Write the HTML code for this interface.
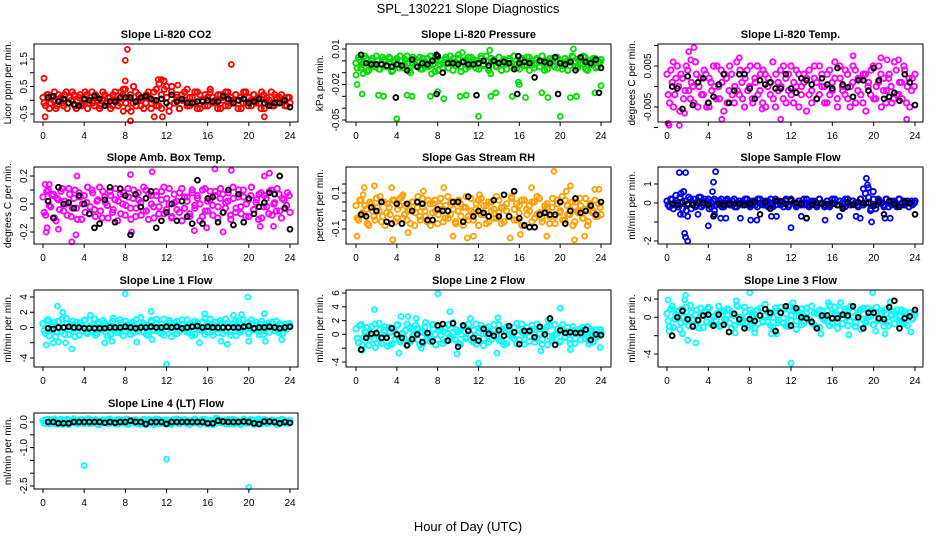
<!DOCTYPE html>
<html><head><meta charset="utf-8">
<style>
html,body{margin:0;padding:0;background:#fff;}
svg{display:block;font-family:"Liberation Sans",sans-serif;}
</style></head>
<body>
<svg id="fig" width="936" height="540" viewBox="0 0 936 540" xmlns="http://www.w3.org/2000/svg">
<rect width="936" height="540" fill="#fff"/>
<text x="468" y="13" text-anchor="middle" font-size="13">SPL_130221  Slope Diagnostics</text>
<text x="468" y="531" text-anchor="middle" font-size="13">Hour of Day (UTC)</text>
</svg>
<script>
const xTicks=[0,4,8,12,16,20,24];

const co2A=[0.1,-0.2,0.2,-0.1,0.0,-0.3,0.2,0.1,-0.2,0.3,-0.1,0.0,0.2,-0.3,0.1,-0.2,0.0,0.2,-0.1,0.3,-0.2,0.1,-0.3,0.0,0.2,-0.1,0.1,-0.2,0.3,0.0,-0.1,0.2,0.4,-0.3,0.2,-0.1,0.3,0.0,-0.2,0.1,-0.1,0.3,-0.3,0.0,0.4,-0.2,0.2,0.7,0.5,-0.4,0.3,-0.1,0.1,-0.3,0.2,0.0,0.4,-0.2,0.1,-0.1,0.3,-0.3,0.0,0.2,-0.2,0.4,0.1,-0.1,0.2,-0.3,0.0,0.3,-0.2,0.1,-0.1,0.2,0.0,-0.3,0.3,-0.1,0.1,-0.2,0.2,0.0,-0.1,0.3,-0.3,0.1,0.0,-0.2,0.2,-0.1,0.1,0.0,-0.2,0.1,-0.1];
const co2B=[-0.1,0.2,-0.3,0.1,0.3,-0.2,0.0,-0.1,0.2,-0.3,0.1,0.3,-0.2,0.0,0.2,-0.1,0.3,-0.3,0.1,-0.1,0.2,0.0,-0.2,0.3,-0.1,0.1,-0.3,0.2,0.0,-0.2,0.3,0.4,-0.1,0.1,-0.4,0.5,-0.2,0.2,0.0,-0.3,0.2,0.1,-0.1,0.3,-0.2,0.6,-0.3,0.4,0.1,-0.2,0.5,-0.1,0.2,-0.3,0.0,0.3,-0.2,0.1,-0.1,0.3,-0.3,0.2,0.0,-0.2,0.1,0.3,-0.1,0.0,-0.3,0.2,0.1,-0.2,0.3,-0.1,0.0,0.2,-0.3,0.1,-0.1,0.3,-0.2,0.0,0.2,-0.1,0.1,-0.3,0.2,0.0,-0.1,0.3,-0.2,0.1,-0.1,0.2,0.0,-0.2,0.1];
const co2Out=[[0.1,0.8],[0.2,-0.6],[8.0,1.45],[8.2,1.85],[8.0,0.7],[8.5,-0.75],[11.2,0.75],[11.5,0.75],[10.8,-0.6],[11.6,-0.6],[18.3,1.3],[21.5,-0.6],[7.8,-0.4],[13.1,0.55]];
const co2Blk=[0.1,0.15,-0.05,0.05,-0.1,-0.15,-0.2,0.05,0.0,0.15,0.05,-0.2,-0.05,-0.05,0.1,0.1,0.1,-0.05,0.1,0.15,0.05,0.0,0.05,-0.1,0.2,-0.05,0.05,-0.1,-0.1,-0.05,-0.05,0.0,-0.05,-0.05,0.15,0.05,-0.1,0.0,0.05,-0.1,-0.05,0.05,-0.1,-0.2,-0.1,-0.1,0.0,-0.25];

const presA=[-0.002,0.003,-0.006,-0.001,0.002,-0.008,0.000,-0.004,0.004,-0.007,-0.002,0.001,-0.005,0.003,-0.009,-0.001,0.002,-0.006,0.000,-0.003,0.004,-0.008,-0.002,0.001,-0.005,0.003,-0.007,-0.001,0.002,-0.004,0.000,-0.009,0.003,-0.003,-0.006,0.001,-0.002,0.004,-0.008,-0.001,0.002,-0.005,0.000,-0.007,0.003,-0.003,0.001,-0.006,-0.002,0.004,-0.004,0.000,-0.008,0.002,-0.001,-0.005,0.003,-0.003,0.001,-0.007,0.000,-0.002,0.004,-0.006,-0.001,0.002,-0.004,0.003,-0.008,0.000,-0.003,0.001,-0.005,0.004,-0.002,-0.007,0.002,-0.001,0.003,-0.006,0.000,-0.004,0.002,-0.008,-0.001,0.003,-0.005,0.001,-0.002,0.004,-0.007,0.000,-0.003,0.002,-0.006,-0.001,0.001];
const presB=[-0.006,0.001,-0.003,0.004,-0.009,-0.002,0.002,-0.005,0.000,-0.007,0.003,-0.001,-0.004,0.002,-0.008,0.000,-0.003,0.004,-0.006,0.001,-0.002,-0.010,0.003,-0.004,0.000,-0.007,0.002,-0.001,-0.005,0.004,-0.003,0.001,-0.008,0.000,-0.002,0.003,-0.006,-0.001,0.002,-0.004,0.005,-0.009,-0.001,0.001,-0.005,0.003,-0.002,0.000,-0.007,0.002,-0.003,0.004,-0.006,-0.001,0.001,-0.004,0.003,-0.008,0.000,-0.002,0.002,-0.005,0.004,-0.003,-0.007,0.001,0.000,-0.004,0.003,-0.002,-0.006,0.002,-0.001,0.004,-0.008,0.000,-0.003,0.001,-0.005,0.003,-0.002,-0.007,0.002,0.000,-0.004,0.004,-0.001,-0.006,0.001,-0.003,0.003,-0.008,0.000,-0.002,0.002,-0.005,-0.001];
const presOut=[[0,-0.012],[0.1,-0.02],[0.6,-0.028],[2.2,-0.029],[2.7,-0.03],[4.0,-0.049],[5.0,-0.029],[5.5,-0.03],[7.3,-0.03],[8.0,-0.026],[8.6,-0.032],[10.2,-0.03],[10.8,-0.029],[12.0,-0.047],[13.2,-0.03],[13.7,-0.027],[15.3,-0.03],[15.9,-0.018],[16.0,-0.02],[16.6,-0.031],[18.2,-0.027],[18.8,-0.031],[20.0,-0.047],[21.0,-0.031],[21.6,-0.03],[23.4,-0.027],[24,-0.021],[13.1,0.009],[21.3,0.01],[10.4,0.007],[0.7,-0.011],[7.4,-0.011],[13.2,-0.011]];
const presBlk=[0.005,-0.002,-0.003,-0.003,-0.003,-0.004,-0.005,-0.003,-0.004,-0.008,0.001,-0.005,-0.002,-0.003,0.000,0.004,-0.010,-0.002,-0.002,-0.003,-0.001,-0.003,-0.003,-0.002,0.000,-0.004,0.000,-0.002,-0.001,-0.002,-0.007,-0.002,-0.001,-0.002,-0.014,0.000,-0.001,-0.002,0.003,-0.002,-0.003,-0.001,-0.008,0.003,-0.001,-0.002,0.001,-0.006];
const presBlkOut=[[3.9,-0.031],[7.9,-0.028],[11.8,-0.029],[15.8,-0.028],[19.8,-0.028],[23.8,-0.027],[7.9,0.005],[15.9,0.004]];

const tempA=[0.003,-0.004,0.001,-0.002,0.005,-0.006,0.002,-0.001,0.004,-0.003,0.000,0.006,-0.005,0.002,-0.002,0.003,-0.004,0.001,0.005,-0.003,0.000,0.004,-0.006,0.002,-0.001,0.003,-0.004,0.006,-0.002,0.001,-0.005,0.004,0.000,-0.003,0.002,0.005,-0.001,-0.004,0.003,0.000,-0.002,0.006,-0.005,0.001,0.004,-0.003,0.002,-0.001,0.005,-0.004,0.000,0.003,-0.002,0.001,-0.006,0.004,-0.001,0.002,-0.003,0.005,0.000,-0.004,0.003,-0.002,0.001,0.006,-0.005,0.002,-0.001,0.004,-0.003,0.000,0.005,-0.004,0.002,-0.002,0.003,-0.006,0.001,0.004,-0.003,0.000,0.005,-0.005,0.002,-0.001,0.003,-0.004,0.006,-0.002,0.001,-0.003,0.004,0.000,-0.005,0.002,0.003];
const tempB=[-0.002,0.004,-0.005,0.002,0.000,0.003,-0.003,0.005,-0.001,0.001,-0.004,0.003,0.000,-0.002,0.004,-0.005,0.002,-0.001,0.000,0.005,-0.003,0.001,0.003,-0.004,0.005,-0.002,0.000,-0.001,0.004,-0.003,0.002,-0.001,0.005,-0.004,0.001,-0.002,0.003,0.004,-0.005,0.002,0.001,-0.003,0.003,-0.001,0.000,0.005,-0.004,0.003,-0.002,0.001,0.004,-0.005,0.000,0.003,0.002,-0.002,-0.004,0.005,0.001,-0.002,0.003,0.000,-0.004,0.004,-0.001,0.002,-0.003,0.005,0.000,-0.002,0.003,-0.005,0.001,0.004,-0.001,0.002,-0.004,0.003,0.000,-0.002,0.005,-0.003,0.001,0.003,-0.001,-0.004,0.002,0.000,-0.003,0.004,-0.002,0.001,0.005,-0.004,0.002,-0.001,0.000];
const tempOut=[[0.1,-0.009],[0.2,-0.0095],[1.2,-0.0095],[2.1,0.0085],[2.6,0.0095],[2.3,0.0065],[0.6,0.006],[7.0,0.007],[5.3,-0.008],[11.0,-0.008],[18.0,0.0075],[20.7,0.007],[21.3,0.0065],[22.4,0.0065],[23.2,-0.008],[1.7,-0.0065],[9.2,-0.0055],[4.1,-0.005]];
const tempBlk=[0.000,-0.0005,-0.0055,0.0025,-0.0045,0.001,0.002,-0.004,-0.0025,0.0005,0.003,-0.004,-0.001,0.003,0.003,-0.0005,-0.003,0.0015,0.0005,0.001,-0.0005,-0.0005,0.003,-0.0005,-0.0015,0.002,0.0015,0.0005,-0.003,0.002,0.0005,-0.0005,0.0045,0.0005,-0.0002,-0.0025,0.0015,0.0015,-0.001,0.0045,0.0015,-0.003,-0.0025,-0.0015,-0.0035,0.003,0.001,-0.0045];

const ambA=[0.05,-0.08,0.10,-0.02,0.07,-0.12,0.03,0.09,-0.05,0.00,0.11,-0.09,0.04,-0.03,0.08,-0.11,0.06,0.01,-0.07,0.10,-0.04,0.02,0.12,-0.10,0.05,-0.01,0.09,-0.06,0.03,-0.12,0.07,0.00,-0.08,0.11,-0.03,0.04,-0.09,0.08,0.01,-0.05,0.10,-0.11,0.06,-0.02,0.09,-0.07,0.03,0.12,-0.04,0.00,-0.10,0.07,0.02,-0.06,0.11,-0.03,0.05,-0.09,0.08,-0.01,0.04,-0.12,0.10,-0.05,0.02,0.09,-0.08,0.06,-0.02,0.11,-0.06,0.01,0.08,-0.11,0.04,-0.03,0.10,-0.07,0.05,0.00,-0.09,0.12,-0.04,0.03,0.07,-0.10,0.06,-0.02,0.09,-0.08,0.01,0.11,-0.05,0.04,-0.03,0.08,-0.06];
const ambB=[-0.06,0.09,-0.01,0.06,-0.10,0.04,-0.04,0.11,0.02,-0.08,0.07,-0.03,0.10,-0.11,0.05,0.00,-0.06,0.12,-0.02,0.08,-0.09,0.03,-0.05,0.09,0.01,-0.10,0.06,-0.04,0.11,0.02,-0.07,0.08,-0.01,0.05,-0.11,0.10,-0.03,0.03,-0.08,0.12,-0.05,0.07,0.00,-0.10,0.06,-0.02,0.09,-0.07,0.04,0.11,-0.09,0.01,-0.04,0.08,-0.12,0.05,0.02,-0.07,0.10,-0.03,0.06,0.00,-0.09,0.11,-0.05,0.03,-0.01,0.09,-0.10,0.04,0.07,-0.03,0.02,-0.08,0.12,-0.06,0.05,-0.02,0.10,-0.09,0.03,0.06,-0.04,0.01,-0.11,0.08,-0.02,0.04,-0.07,0.10,0.00,-0.05,0.07,-0.10,0.03,-0.01,0.06];
const ambOut=[[0.2,0.14],[0.6,0.14],[0.3,-0.2],[0.4,-0.17],[3.3,0.2],[2.8,-0.27],[3.2,-0.22],[8.5,0.21],[10.6,0.23],[8.6,-0.2],[16.7,0.25],[18.3,0.24],[17.5,-0.2],[15.9,-0.17],[21.5,0.2],[22.0,0.22],[21.1,-0.16],[22.4,-0.16],[1.5,-0.18],[14.7,-0.19]];
const ambBlk=[0.02,-0.1,0.12,0.0,0.01,-0.03,0.06,0.0,-0.07,-0.17,-0.14,0.03,0.12,-0.13,0.11,0.06,-0.22,0.07,-0.02,0.04,0.09,-0.17,-0.12,-0.06,0.0,-0.12,0.02,-0.09,-0.14,0.17,-0.14,0.04,0.05,-0.13,-0.06,0.1,-0.15,0.07,-0.13,0.04,-0.07,-0.02,0.01,0.08,0.07,0.2,-0.03,-0.18];

const rhA=[0.03,-0.05,0.06,-0.02,0.01,-0.08,0.04,-0.03,0.07,0.00,-0.06,0.05,-0.01,0.02,-0.07,0.06,-0.04,0.03,0.08,-0.02,-0.05,0.01,0.05,-0.08,0.02,-0.03,0.07,0.00,-0.06,0.04,-0.01,0.06,-0.07,0.03,0.01,-0.04,0.08,-0.02,0.05,-0.06,0.00,0.04,-0.08,0.02,-0.03,0.07,-0.05,0.01,0.06,-0.02,0.03,-0.07,0.05,0.00,-0.04,0.08,-0.01,0.02,-0.06,0.04,-0.03,0.07,0.01,-0.05,0.03,-0.08,0.06,-0.02,0.00,0.05,-0.04,0.08,-0.01,-0.06,0.03,0.02,-0.03,0.07,-0.07,0.04,0.00,-0.05,0.06,-0.02,0.01,-0.08,0.05,-0.01,0.03,-0.04,0.07,-0.06,0.02,0.00,-0.03,0.04,-0.02];
const rhB=[-0.04,0.06,-0.01,0.03,-0.07,0.05,0.00,-0.05,0.02,0.08,-0.03,-0.08,0.04,-0.02,0.06,-0.06,0.01,0.07,-0.04,0.03,0.00,-0.07,0.05,-0.01,0.08,-0.05,0.02,-0.03,0.06,-0.08,0.04,0.00,-0.02,0.07,-0.06,0.03,-0.04,0.05,0.01,-0.07,0.06,-0.03,0.02,0.08,-0.05,0.00,-0.01,0.04,-0.08,0.07,-0.02,0.03,-0.06,0.05,0.01,-0.04,0.06,-0.07,0.02,0.00,-0.03,0.08,-0.05,0.04,-0.01,0.06,-0.08,0.01,0.03,-0.06,0.05,-0.02,0.07,-0.04,0.00,0.04,-0.07,0.02,-0.03,0.06,-0.01,0.08,-0.05,0.03,-0.02,0.05,-0.06,0.00,0.07,-0.04,0.01,-0.08,0.04,-0.01,0.06,-0.03,0.02];
const rhOut=[[0.1,-0.14],[0.8,0.13],[0.7,0.09],[1.8,0.14],[3.5,0.13],[3.6,-0.16],[4.6,0.09],[5.1,-0.12],[6.6,0.11],[8.6,0.13],[9.5,-0.14],[10.9,-0.15],[11.5,-0.14],[12.1,0.09],[15.1,-0.15],[16.1,-0.13],[17.2,0.13],[18.7,-0.14],[19.4,0.22],[20.6,0.11],[21.0,0.14],[21.4,-0.16],[22.4,-0.14],[23.4,0.12],[23.8,0.12]];
const rhBlk=[-0.02,-0.03,0.02,0.0,0.05,-0.06,-0.07,0.04,-0.07,0.04,0.0,0.05,0.04,-0.05,-0.05,0.01,0.0,0.0,0.05,0.05,-0.06,0.08,-0.03,0.0,-0.01,-0.03,0.06,-0.03,0.09,-0.03,0.11,-0.04,-0.08,-0.09,-0.09,-0.02,-0.01,-0.02,-0.02,0.05,-0.07,0.0,0.07,-0.01,0.0,0.03,-0.02,0.05];

const sfA=[0.1,-0.2,0.2,-0.1,0.0,0.3,-0.3,0.1,-0.1,0.2,0.0,-0.2,0.1,0.3,-0.1,0.0,0.2,-0.2,0.1,-0.1,0.0,0.2,-0.2,0.1,0.0,-0.1,0.2,-0.2,0.1,0.0,-0.1,0.2,-0.1,0.0,0.1,-0.2,0.2,0.0,-0.1,0.1,0.0,-0.2,0.2,0.1,-0.1,0.0,0.1,-0.2,0.2,0.0,-0.1,0.1,-0.1,0.2,0.0,-0.2,0.1,0.0,-0.1,0.2,0.0,-0.2,0.1,-0.1,0.2,0.0,-0.1,0.1,-0.2,0.2,0.0,-0.1,0.1,0.0,-0.2,0.2,-0.1,0.0,0.3,-0.3,0.2,-0.1,0.1,0.0,-0.2,0.2,0.0,-0.1,0.1,-0.2,0.2,0.0,-0.1,0.1,0.0,-0.1,0.1];
const sfB=[-0.1,0.2,-0.3,0.4,-0.2,0.5,0.6,-0.4,0.3,-0.3,0.2,-0.1,0.3,-0.2,0.2,0.1,-0.3,0.0,0.2,-0.1,0.1,-0.2,0.0,0.2,-0.1,0.1,-0.2,0.0,0.1,-0.1,0.2,0.0,-0.2,0.1,-0.1,0.2,0.0,-0.1,0.1,-0.2,0.2,0.0,-0.1,0.1,0.0,-0.2,0.2,-0.1,0.1,0.0,-0.2,0.1,0.0,-0.1,0.2,-0.1,0.0,0.1,-0.2,0.2,0.0,-0.1,0.1,-0.2,0.0,0.2,-0.1,0.1,0.0,-0.2,0.2,-0.1,0.1,0.0,-0.1,0.2,-0.1,0.5,0.8,-0.4,0.6,-0.3,0.2,0.0,-0.1,0.2,-0.2,0.1,0.0,-0.1,0.2,-0.1,0.1,0.0,-0.2,0.1,0.0];
const sfOut=[[1.2,1.6],[1.8,1.6],[1.7,-1.6],[1.8,-1.8],[2.0,-2.0],[4.5,1.1],[4.7,1.65],[4.4,0.6],[4.0,-1.2],[4.6,-0.4],[5.2,-0.8],[5.7,-0.8],[7.1,-0.8],[8.1,-0.9],[8.7,-0.9],[10.1,-0.7],[10.6,-0.7],[12.0,-1.3],[13.0,-0.7],[13.5,-0.8],[15.3,-0.9],[16.7,-0.7],[18.3,-0.7],[18.7,-0.8],[19.3,1.3],[19.4,0.95],[19.0,0.75],[19.8,-1.0],[21.1,-0.8],[21.6,-0.8],[1.3,-0.6],[1.6,-0.6],[2.0,-0.7],[3.0,-0.6],[4.6,-0.6]];
const sfBlk=[-0.05,-0.1,0.05,-0.05,-0.1,0.0,0.0,-0.1,-0.7,-0.05,-0.1,-0.05,-0.05,-0.05,-0.1,-0.05,0.05,-0.6,0.05,-0.3,0.1,0.1,-0.05,0.15,0.0,-0.05,-0.8,-0.1,0.0,-0.05,-0.05,-0.05,-0.1,-0.3,0.05,-0.1,0.05,0.0,0.0,-0.15,0.05,-0.6,0.1,-0.05,-0.2,0.05,0.0,-0.6];

const l1A=[0.5,-0.8,1.0,-0.3,0.2,-1.2,0.8,-0.5,0.0,1.2,-0.9,0.4,-0.2,0.7,-1.0,0.3,0.9,-0.6,0.1,-0.4,1.1,-0.8,0.5,-0.1,0.6,-1.1,0.2,0.8,-0.3,-0.7,1.0,0.0,-0.5,0.4,-0.9,0.7,0.1,-0.2,1.3,-0.6,0.3,-1.0,0.9,-0.4,0.5,0.0,-0.8,1.1,-0.3,0.6,-1.2,0.2,0.8,-0.5,0.4,-0.1,1.0,-0.7,0.3,-0.9,0.6,0.0,-0.4,1.2,-0.6,0.2,-1.0,0.7,-0.2,0.5,-0.8,1.1,0.1,-0.5,0.4,-1.1,0.9,-0.3,0.0,0.6,-0.7,1.0,-0.2,0.3,-0.9,0.8,-0.4,0.2,-0.6,0.7,0.0,-0.3,0.5,-0.8,0.4,-0.1,0.2];
const l1B=[-0.4,0.9,-1.1,0.3,0.7,-0.6,0.0,1.1,-0.9,0.5,-0.3,0.8,-1.2,0.2,0.6,-0.5,1.0,-0.8,0.1,0.4,-1.0,0.7,-0.2,0.9,-0.6,0.3,-0.9,1.2,0.0,-0.4,0.6,-1.1,0.8,-0.1,0.3,-0.7,1.0,-0.5,0.2,0.5,-0.9,0.0,0.7,-0.3,1.1,-0.6,0.4,-1.0,0.2,0.9,-0.4,0.6,-0.8,0.1,1.0,-0.2,-0.6,0.5,-1.1,0.8,0.0,-0.3,0.7,-0.9,0.4,1.1,-0.5,0.2,-0.7,0.9,0.0,-0.4,0.6,-1.0,0.3,0.8,-0.2,-0.6,1.0,0.1,-0.8,0.5,-0.3,0.7,-0.5,0.4,-0.9,0.2,0.6,-0.1,-0.4,0.8,-0.7,0.3,0.0,-0.2,0.5];
const l1Out=[[0.3,-2.3],[1.4,2.8],[1.9,2.0],[2.8,-2.8],[1.0,-2.0],[1.5,-1.9],[2.2,-2.0],[4.6,1.6],[6.0,-2.0],[6.7,-1.8],[8.0,4.4],[9.1,-1.9],[10.5,2.1],[10.6,-1.6],[12.0,-4.8],[15.2,-2.0],[15.7,1.8],[17.3,-1.8],[17.9,-2.2],[18.5,1.6],[19.3,1.7],[19.9,4.0],[20.0,-1.8],[21.5,1.8],[21.6,-1.8],[23.2,-1.6]];
const l1Blk=[-0.1,-0.2,0.0,0.0,0.1,0.0,0.0,-0.1,-0.1,-0.1,-0.1,-0.1,0.0,0.0,0.0,0.1,0.0,-0.1,0.0,0.0,0.1,0.0,0.0,0.1,0.0,0.1,-0.1,0.0,0.1,0.2,0.0,0.1,0.0,0.0,0.0,0.0,0.0,0.0,0.1,0.2,-0.1,0.0,0.0,0.1,0.0,-0.1,0.0,0.1];

const l2A=[0.8,-1.2,1.4,-0.4,0.3,-1.6,1.1,-0.7,0.0,1.6,-1.3,0.6,-0.3,1.0,-1.4,0.4,1.3,-0.8,0.1,-0.6,1.5,-1.1,0.7,-0.1,0.9,-1.5,0.3,1.1,-0.4,-1.0,1.4,0.0,-0.7,0.6,-1.3,1.0,0.1,-0.3,1.7,-0.8,0.4,-1.4,1.3,-0.6,0.7,0.0,-1.1,1.5,-0.4,0.8,-1.6,0.3,1.1,-0.7,0.6,-0.1,1.4,-1.0,0.4,-1.3,0.8,0.0,-0.6,1.6,-0.8,0.3,-1.4,1.0,-0.3,0.7,-1.1,1.5,0.1,-0.7,0.6,-1.5,1.3,-0.4,0.0,0.8,-1.0,1.4,-0.3,0.4,-1.3,1.1,-0.6,0.3,-0.8,1.0,0.0,-0.4,0.7,-1.1,0.6,-0.1,0.3];
const l2B=[-0.6,1.3,-1.5,0.4,1.0,-0.8,0.0,1.5,-1.3,0.7,-0.4,1.1,-1.7,0.3,0.8,-0.7,1.4,-1.1,0.1,0.6,-1.4,1.0,-0.3,1.3,-0.8,0.4,-1.3,1.7,0.0,-0.6,0.8,-1.5,1.1,-0.1,0.4,-1.0,1.4,-0.7,0.3,0.7,-1.3,0.0,1.0,-0.4,1.5,-0.8,0.6,-1.4,0.3,1.3,-0.6,0.8,-1.1,0.1,1.4,-0.3,-0.8,0.7,-1.5,1.1,0.0,-0.4,1.0,-1.3,0.6,1.5,-0.7,0.3,-1.0,1.3,0.0,-0.6,0.8,-1.4,0.4,1.1,-0.3,-0.8,1.4,0.1,-1.1,0.7,-0.4,1.0,-0.7,0.6,-1.3,0.3,0.8,-0.1,-0.6,1.1,-1.0,0.4,0.0,-0.3,0.7];
const l2Out=[[0.6,-2.3],[1.8,3.6],[1.9,-1.9],[4.2,-2.7],[4.4,2.6],[5.1,2.6],[5.9,2.3],[8.0,5.9],[9.2,3.3],[9.9,-2.8],[11.2,2.3],[12.0,-4.2],[13.8,-2.7],[13.9,2.4],[18.1,-2.4],[18.8,2.1],[20.0,3.8],[21.0,-2.2],[22.8,-1.4],[23.9,-1.9],[3.3,-1.5],[6.4,-2.0]];
const l2Blk=[-2.2,-0.5,0.1,0.2,-0.5,-0.5,0.9,0.0,-0.5,-1.6,-0.7,0.0,-1.1,0.2,-1.0,1.3,1.5,-0.9,1.6,-1.8,1.3,0.5,-0.5,-0.9,0.8,0.1,-0.2,0.6,-0.2,1.2,0.3,-1.4,0.5,0.5,-0.4,1.1,0.0,2.3,-1.5,0.6,0.2,0.3,0.2,0.2,0.7,-0.8,0.0,-0.1];

const l3A=[0.4,-1.0,1.2,-0.2,0.6,-1.3,0.9,-0.5,0.1,1.3,-0.8,0.3,-0.4,1.0,-1.1,0.5,1.1,-0.7,0.0,-0.3,1.2,-0.9,0.6,-0.2,0.8,-1.2,0.2,1.3,-0.5,-0.6,1.1,0.1,-0.9,0.5,-1.2,0.8,0.2,-0.4,1.4,-0.5,0.3,-1.1,1.0,-0.6,0.6,-0.1,-0.9,1.2,-0.3,0.7,-1.3,0.2,0.9,-0.6,0.5,-0.2,1.2,-0.8,0.4,-1.1,0.7,0.0,-0.5,1.3,-0.7,0.3,-1.2,0.8,-0.1,0.6,-0.9,1.2,0.0,-0.6,0.5,-1.3,1.0,-0.4,0.1,0.7,-0.8,1.1,-0.2,0.4,-1.0,0.9,-0.5,0.3,-0.7,0.8,0.1,-0.4,0.6,-0.9,0.5,-0.2,0.3];
const l3B=[-0.4,0.9,-1.1,0.3,0.7,-0.6,0.0,1.1,-0.9,0.5,-0.3,0.8,-1.2,0.2,0.6,-0.5,1.0,-0.8,0.1,0.4,-1.0,0.7,-0.2,0.9,-0.6,0.3,-0.9,1.2,0.0,-0.4,0.6,-1.1,0.8,-0.1,0.3,-0.7,1.0,-0.5,0.2,0.5,-0.9,0.0,0.7,-0.3,1.1,-0.6,0.4,-1.0,0.2,0.9,-0.4,0.6,-0.8,0.1,1.0,-0.2,-0.6,0.5,-1.1,0.8,0.0,-0.3,0.7,-0.9,0.4,1.1,-0.5,0.2,-0.7,0.9,0.0,-0.4,0.6,-1.0,0.3,0.8,-0.2,-0.6,1.0,0.1,-0.8,0.5,-0.3,0.7,-0.5,0.4,-0.9,0.2,0.6,-0.1,-0.4,0.8,-0.7,0.3,0.0,-0.2,0.5];
const l3Out=[[0.1,1.9],[0.2,-1.5],[1.7,1.9],[1.8,2.4],[2.0,-2.5],[2.8,-2.8],[1.5,-1.8],[6.7,1.8],[6.6,-1.7],[8.0,2.7],[8.5,-1.7],[10.1,-1.8],[10.6,-1.8],[12.0,-5.0],[12.2,1.6],[14.9,-1.8],[15.6,1.6],[16.8,1.6],[17.6,-1.9],[19.9,2.7],[20.2,-1.5],[21.1,-1.8],[21.6,1.7],[23.6,-1.6]];
const l3Blk=[-2.0,0.0,0.7,-0.2,-1.0,-0.3,0.2,0.3,-0.9,0.3,-0.8,-1.6,0.4,-0.2,-1.2,-0.2,-0.4,0.2,0.9,0.5,-1.5,0.5,1.2,-0.9,1.0,0.0,-0.1,-0.5,-1.2,0.2,0.2,-0.1,-0.1,0.3,0.2,1.2,0.0,-1.2,0.5,0.5,-0.1,-0.2,1.1,1.8,-1.2,-0.1,0.1,0.8];

const l4A=[0.05,-0.05,0.1,0.0,0.08,-0.08,0.03,0.1,-0.03,0.06,-0.1,0.0,0.12,-0.05,0.04,0.09,-0.07,0.02,0.1,-0.04,0.06,0.0,-0.09,0.08,0.03,-0.06,0.11,-0.02,0.05,-0.08,0.07,0.01,-0.05,0.1,-0.03,0.04,0.08,-0.07,0.02,0.06,-0.1,0.09,0.0,-0.04,0.11,-0.06,0.03,0.07,-0.02,0.05,-0.09,0.1,0.0,-0.05,0.08,0.02,-0.07,0.06,-0.03,0.11,0.01,-0.08,0.04,0.09,-0.04,0.06,-0.1,0.03,0.08,-0.02,0.05,-0.06,0.1,0.0,-0.08,0.07,0.02,-0.04,0.11,-0.05,0.03,0.06,-0.09,0.08,0.01,-0.03,0.1,-0.06,0.04,0.07,-0.01,0.05,-0.08,0.09,0.02,-0.04,0.06];
const l4B=[-0.04,0.09,-0.07,0.03,0.11,-0.02,0.06,-0.09,0.04,0.1,-0.05,0.07,0.0,-0.08,0.08,-0.03,0.05,0.12,-0.06,0.02,0.09,-0.1,0.04,-0.01,0.07,0.1,-0.04,0.03,-0.07,0.09,-0.02,0.06,0.11,-0.09,0.01,0.08,-0.05,0.04,-0.08,0.1,0.02,-0.03,0.07,-0.1,0.05,0.09,-0.01,-0.06,0.08,0.03,-0.04,0.06,0.11,-0.07,0.02,0.09,-0.02,-0.09,0.05,0.07,-0.05,0.03,0.1,-0.03,-0.08,0.06,0.04,-0.06,0.12,0.0,-0.03,0.08,-0.08,0.05,0.1,-0.04,0.02,-0.1,0.07,0.04,-0.02,0.09,-0.06,0.03,0.11,-0.07,0.0,0.06,-0.04,0.08,0.02,-0.09,0.05,0.1,-0.03,0.04,-0.05];
const l4Out=[[4.0,-1.7],[12.0,-1.45],[20.0,-2.55],[16.8,0.15]];
const l4Blk=[0.0,0.0,-0.05,-0.05,-0.05,0.0,0.0,0.0,0.0,0.0,0.0,-0.03,0.0,-0.03,0.0,0.0,0.05,0.0,0.0,-0.08,0.0,0.0,0.0,-0.08,0.0,0.0,0.0,0.0,0.0,0.0,0.0,-0.05,-0.05,0.05,0.02,0.0,0.0,0.0,0.02,0.0,-0.05,-0.08,0.02,0.02,0.0,-0.05,0.0,-0.03];

const co2Ticks=[-0.5,0,0.5,1,1.5], co2Labels=["-0.5","","0.5","","1.5"];
const presTicks=[0.01,0,-0.01,-0.02,-0.03,-0.04,-0.05], presLabels=["0.01","","","-0.02","","","-0.05"];
const tempTicks=[0.01,0.005,0,-0.005,-0.01], tempLabels=["","0.005","","-0.005",""];
const ambTicks=[0.2,0.1,0,-0.1,-0.2], ambLabels=["0.2","","0.0","","-0.2"];
const rhTicks=[0.15,0.1,0.05,0,-0.05,-0.1], rhLabels=["","0.1","","","","-0.1"];
const sfTicks=[1,0,-1,-2], sfLabels=["1","0","","-2"];
const l1Ticks=[4,2,0,-2,-4], l1Labels=["4","2","0","","-4"];
const l2Ticks=[6,4,2,0,-2,-4], l2Labels=["6","4","2","0","","-4"];
const l3Ticks=[2,0,-2,-4], l3Labels=["2","0","","-4"];
const l4Ticks=[0,-0.5,-1,-1.5,-2,-2.5], l4Labels=["0.0","","-1.0","","","-2.5"];

const NS="http://www.w3.org/2000/svg";
const svg=document.getElementById('fig');
function mk(tag,attrs,parent){const e=document.createElementNS(NS,tag);for(const k in attrs)e.setAttribute(k,attrs[k]);(parent||svg).appendChild(e);return e;}

const panels=[
 {id:'co2',title:'Slope Li-820 CO2',yl:'Licor ppm per min.',L:34,R:298,T:44,B:122,x0:43,x24:290,v1:1.5,p1:59,v2:-0.5,p2:114,A:co2A,Bv:co2B,out:co2Out,blk:co2Blk,ticks:co2Ticks,labs:co2Labels,col:'#ff0000'},
 {id:'pressure',title:'Slope Li-820 Pressure',yl:'kPa per min.',L:346,R:611,T:44,B:122,x0:356,x24:601,v1:0.01,p1:49,v2:-0.05,p2:120,A:presA,Bv:presB,out:presOut,blk:presBlk,blkOut:presBlkOut,ticks:presTicks,labs:presLabels,col:'#00dd00'},
 {id:'temp',title:'Slope Li-820 Temp.',yl:'degrees C per min.',L:658,R:923,T:44,B:122,x0:667,x24:915,v1:0.005,p1:66,v2:-0.005,p2:107,A:tempA,Bv:tempB,out:tempOut,blk:tempBlk,ticks:tempTicks,labs:tempLabels,col:'#ff00ff'},
 {id:'amb-box-temp',title:'Slope Amb. Box Temp.',yl:'degrees C per min.',L:34,R:298,T:167,B:244,x0:43,x24:290,v1:0.2,p1:176,v2:-0.2,p2:232,A:ambA,Bv:ambB,out:ambOut,blk:ambBlk,ticks:ambTicks,labs:ambLabels,col:'#ff00ff'},
 {id:'gas-stream-rh',title:'Slope Gas Stream RH',yl:'percent per min.',L:346,R:611,T:167,B:244,x0:356,x24:601,v1:0.1,p1:193,v2:-0.1,p2:229,A:rhA,Bv:rhB,out:rhOut,blk:rhBlk,ticks:rhTicks,labs:rhLabels,col:'#ff9f00'},
 {id:'sample-flow',title:'Slope Sample Flow',yl:'ml/min per min.',L:658,R:923,T:167,B:244,x0:667,x24:915,v1:1,p1:184,v2:-2,p2:241,A:sfA,Bv:sfB,out:sfOut,blk:sfBlk,ticks:sfTicks,labs:sfLabels,col:'#0000ee'},
 {id:'line1-flow',title:'Slope Line 1 Flow',yl:'ml/min per min.',L:34,R:298,T:290,B:367,x0:43,x24:290,v1:4,p1:297,v2:-4,p2:358,A:l1A,Bv:l1B,out:l1Out,blk:l1Blk,ticks:l1Ticks,labs:l1Labels,col:'#00ffff'},
 {id:'line2-flow',title:'Slope Line 2 Flow',yl:'ml/min per min.',L:346,R:611,T:290,B:367,x0:356,x24:601,v1:6,p1:293,v2:-4,p2:362,A:l2A,Bv:l2B,out:l2Out,blk:l2Blk,ticks:l2Ticks,labs:l2Labels,col:'#00ffff'},
 {id:'line3-flow',title:'Slope Line 3 Flow',yl:'ml/min per min.',L:658,R:923,T:290,B:367,x0:667,x24:915,v1:2,p1:299,v2:-4,p2:354,A:l3A,Bv:l3B,out:l3Out,blk:l3Blk,ticks:l3Ticks,labs:l3Labels,col:'#00ffff'},
 {id:'line4-flow',title:'Slope Line 4 (LT) Flow',yl:'ml/min per min.',L:34,R:298,T:413,B:489,x0:43,x24:290,v1:0,p1:422,v2:-2.5,p2:486,A:l4A,Bv:l4B,out:l4Out,blk:l4Blk,ticks:l4Ticks,labs:l4Labels,col:'#00ffff'}
];

panels.forEach(p=>{
  const g=mk('g',{});
  
  
  const xs=h=>p.x0+(p.x24-p.x0)*h/24;
  const ys=v=>p.p1+(p.p2-p.p1)*(v-p.v1)/(p.v2-p.v1);
  const cx=(p.L+p.R)/2;
  const t=mk('text',{x:cx,y:p.T-6,'text-anchor':'middle','font-size':'11','font-weight':'bold'},g);
  t.textContent=p.title;
  
  
  const marks=mk('g',{},g);
  
  
  const dot=(x,y,stroke,sw,r)=>{mk('circle',{cx:x.toFixed(1),cy:y.toFixed(1),r:r,fill:'none',stroke:stroke,'stroke-width':sw},marks);};
  const nA=p.A.length;
  p.A.forEach((v,i)=>dot(xs(i*24/(nA-1)),ys(v),p.col,1.9,2.7));
  const nB=p.Bv.length;
  p.Bv.forEach((v,i)=>dot(xs(0.12+i*23.8/(nB-1)),ys(v),p.col,1.9,2.7));
  p.out.forEach(o=>dot(xs(o[0]),ys(o[1]),p.col,1.8,2.5));
  const nK=p.blk.length;
  p.blk.forEach((v,i)=>dot(xs(0.5+i*23.5/(nK-1)),ys(v),'#000',1.9,2.4));
  (p.blkOut||[]).forEach(o=>dot(xs(o[0]),ys(o[1]),'#000',1.9,2.4));
  const box=mk('rect',{x:p.L,y:p.T,width:p.R-p.L,height:p.B-p.T,fill:'none',stroke:'#000','stroke-width':1},g);
  
  
  const xa=mk('g',{},g);
  
  
  mk('line',{x1:xs(0),x2:xs(24),y1:p.B,y2:p.B,stroke:'#000'},xa);
  xTicks.forEach(h=>{
    mk('line',{x1:xs(h),x2:xs(h),y1:p.B,y2:p.B+4,stroke:'#000'},xa);
    const tl=mk('text',{x:xs(h),y:p.B+17,'text-anchor':'middle','font-size':'10'},xa);
    tl.textContent=String(h);
  });
  const ya=mk('g',{},g);
  
  
  p.ticks.forEach((v,i)=>{
    const y=ys(v);
    mk('line',{x1:p.L-4,x2:p.L,y1:y,y2:y,stroke:'#000'},ya);
    if(p.labs[i]){
      const tl=mk('text',{x:p.L-7,y:y,'text-anchor':'middle','font-size':'10',transform:`rotate(-90 ${p.L-7} ${y})`},ya);
      tl.textContent=p.labs[i];
    }
  });
  const yt=mk('text',{x:p.L-23,y:(p.T+p.B)/2,'text-anchor':'middle','font-size':'10',transform:`rotate(-90 ${p.L-23} ${(p.T+p.B)/2})`},g);
  yt.textContent=p.yl;
  
  
});
</script>
</body></html>
